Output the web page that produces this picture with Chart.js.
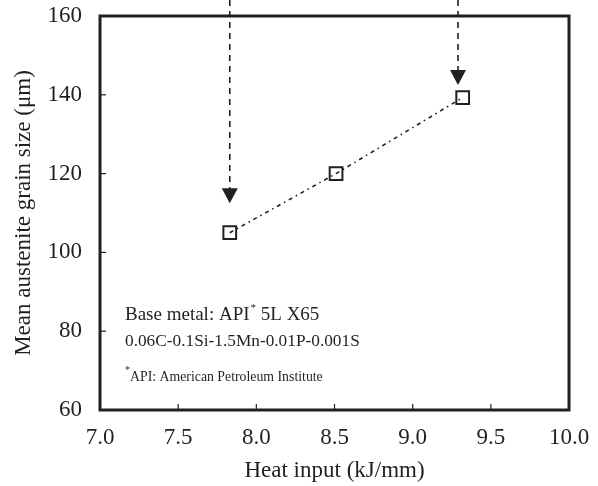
<!DOCTYPE html>
<html>
<head>
<meta charset="utf-8">
<script src="https://cdn.jsdelivr.net/npm/chart.js@4"></script>
<style>
  html, body { margin: 0; padding: 0; background: #fff; }
  #wrap { width: 598px; height: 486px; }
</style>
</head>
<body>
<div id="wrap"><canvas id="grafico" width="598" height="486"></canvas></div>
<script>
// dados
const heatInput = [7.83, 8.51, 9.32];
const grainSize = [105, 120, 139.3];
const xTicks = [7.0, 7.5, 8.0, 8.5, 9.0, 9.5, 10.0];
const yTicks = [60, 80, 100, 120, 140, 160];
const arrowX = [7.83, 9.29];
const arrowTip = [112.5, 142.5];
const notes = ['Base metal: API', '0.06C-0.1Si-1.5Mn-0.01P-0.001S', 'API: American Petroleum Institute'];

const cor = '#231f20';
const fonte = 'Liberation Serif';

const molduraPlugin = {
    id: 'moldura',
    afterDatasetsDraw(chart) {
        const ctx = chart.ctx;
        const a = chart.chartArea;
        const sx = chart.scales.x;
        const sy = chart.scales.y;
        ctx.save();

        // setas tracejadas
        arrowX.forEach((v, i) => {
            const px = sx.getPixelForValue(v);
            const tip = sy.getPixelForValue(arrowTip[i]);
            ctx.strokeStyle = cor;
            ctx.lineWidth = 1.6;
            ctx.setLineDash([6, 5]);
            ctx.beginPath();
            ctx.moveTo(px, 0);
            ctx.lineTo(px, tip - 14);
            ctx.stroke();
            ctx.setLineDash([]);
            ctx.fillStyle = cor;
            ctx.beginPath();
            ctx.moveTo(px - 8, tip - 15);
            ctx.lineTo(px + 8, tip - 15);
            ctx.lineTo(px, tip);
            ctx.closePath();
            ctx.fill();
        });

        // marcas internas
        ctx.strokeStyle = cor;
        ctx.lineWidth = 1.2;
        xTicks.slice(1, -1).forEach(v => {
            const px = sx.getPixelForValue(v);
            ctx.beginPath();
            ctx.moveTo(px, a.bottom);
            ctx.lineTo(px, a.bottom - 6);
            ctx.stroke();
        });
        yTicks.slice(1, -1).forEach(v => {
            const py = sy.getPixelForValue(v);
            ctx.beginPath();
            ctx.moveTo(a.left, py);
            ctx.lineTo(a.left + 6, py);
            ctx.stroke();
        });

        // moldura
        ctx.lineWidth = 3;
        ctx.strokeRect(a.left, a.top, a.right - a.left, a.bottom - a.top);

        // textos
        ctx.fillStyle = cor;
        ctx.textBaseline = 'alphabetic';
        ctx.textAlign = 'left';
        const x0 = a.left + 25;
        ctx.font = '19px "' + fonte + '"';
        ctx.fillText(notes[0], x0, 320);
        let w = ctx.measureText(notes[0]).width;
        ctx.font = '11px "' + fonte + '"';
        ctx.fillText('*', x0 + w + 1, 311);
        let w2 = ctx.measureText('*').width;
        ctx.font = '19px "' + fonte + '"';
        ctx.fillText(' 5L X65', x0 + w + w2 + 1, 320);
        ctx.font = '17.3px "' + fonte + '"';
        ctx.fillText(notes[1], x0, 346);
        ctx.font = '10px "' + fonte + '"';
        ctx.fillText('*', x0, 373);
        w = ctx.measureText('*').width;
        ctx.font = '13.8px "' + fonte + '"';
        ctx.fillText(notes[2], x0 + w, 381);

        ctx.restore();
    }
};

new Chart(document.getElementById('grafico').getContext('2d'), {
    type: 'line',
    data: {
        datasets: [{
            data: heatInput.map((x, i) => ({ x: x, y: grainSize[i] })),
            borderColor: cor,
            borderWidth: 1.6,
            borderDash: [4, 4, 1.5, 4],
            pointStyle: 'rect',
            pointRadius: 9,
            pointBorderWidth: 2,
            pointBorderColor: cor,
            pointBackgroundColor: 'rgba(0,0,0,0)',
            fill: false,
            tension: 0
        }]
    },
    options: {
        responsive: false,
        animation: false,
        layout: { padding: { top: 16, right: 29, left: 0, bottom: 0 } },
        plugins: { legend: { display: false }, tooltip: { enabled: false } },
        scales: {
            x: {
                type: 'linear',
                min: 7, max: 10,
                afterFit: s => {
                    s.height = 76;
                    s.paddingLeft = 0;
                    s.paddingRight = 0;
                },
                afterBuildTicks: s => { s.ticks = xTicks.map(v => ({ value: v })); },
                grid: { display: false, drawTicks: false },
                border: { display: false },
                ticks: {
                    padding: 14,
                    color: cor,
                    font: { family: fonte, size: 23 },
                    maxRotation: 0,
                    callback: v => v.toFixed(1)
                },
                title: {
                    display: true,
                    text: 'Heat input (kJ/mm)',
                    color: cor,
                    font: { family: fonte, size: 23 },
                    padding: { top: 2, bottom: 1 }
                }
            },
            y: {
                min: 60, max: 160,
                afterFit: s => {
                    s.width = 100;
                    s.paddingTop = 0;
                    s.paddingBottom = 0;
                },
                afterBuildTicks: s => { s.ticks = yTicks.map(v => ({ value: v })); },
                grid: { display: false, drawTicks: false },
                border: { display: false },
                ticks: {
                    padding: 18,
                    color: cor,
                    font: { family: fonte, size: 23 }
                },
                title: {
                    display: true,
                    text: 'Mean austenite grain size (μm)',
                    color: cor,
                    font: { family: fonte, size: 23 },
                    padding: { top: 10, bottom: 4 }
                }
            }
        }
    },
    plugins: [molduraPlugin]
});
</script>
</body>
</html>
